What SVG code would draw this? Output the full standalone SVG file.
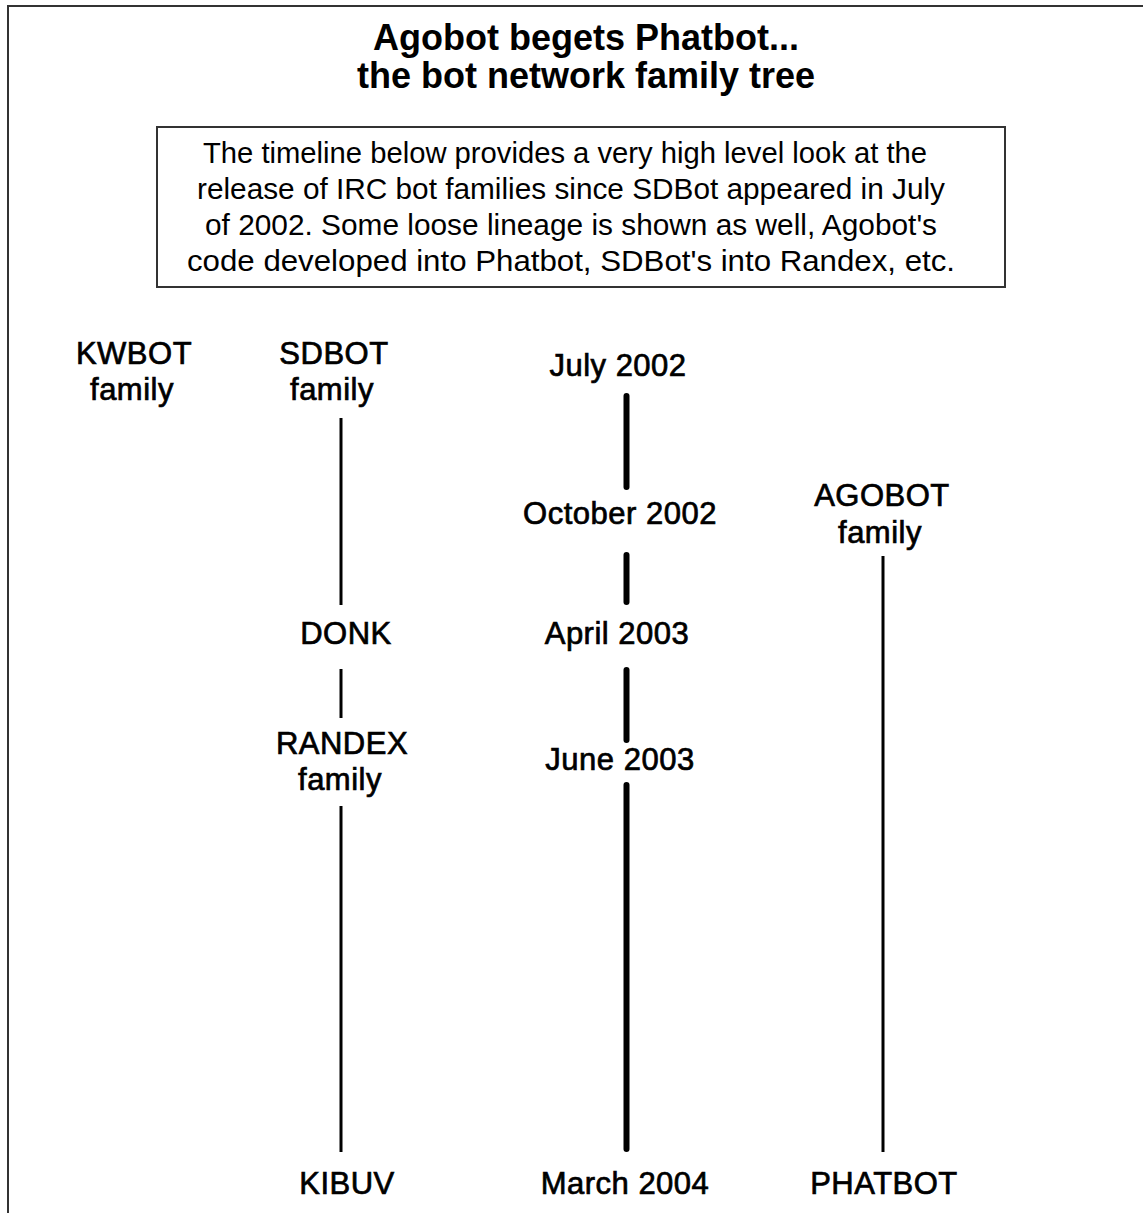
<svg xmlns="http://www.w3.org/2000/svg" width="1143" height="1213" viewBox="0 0 1143 1213">
<style>
  .title { font-family: "Liberation Sans", Arial, sans-serif; font-weight: bold; font-size: 36px; fill: #000; text-anchor: middle; }
  .para { font-family: "Liberation Sans", Arial, sans-serif; font-size: 30px; fill: #000; text-anchor: middle; }
  .lbl { font-family: "Liberation Sans", Arial, sans-serif; font-size: 31px; letter-spacing: 0.5px; fill: #000; stroke: #000; stroke-width: 0.7; text-anchor: middle; }
  .thin { stroke: #000; stroke-width: 3; fill: none; }
  .thick { stroke: #000; stroke-width: 6; fill: none; stroke-linecap: round; }
</style>
<rect width="1143" height="1213" fill="#fff"/>
<path d="M8 1213 V6 H1143" fill="none" stroke="#333" stroke-width="2"/>
<g id="title">
  <text class="title" x="586" y="50">Agobot begets Phatbot...</text>
  <text class="title" x="586" y="88">the bot network family tree</text>
</g>
<g id="description">
  <rect x="157" y="127" width="848" height="160" fill="#fff" stroke="#333" stroke-width="2"/>
  <text class="para" x="565" y="163" textLength="724" lengthAdjust="spacingAndGlyphs">The timeline below provides a very high level look at the</text>
  <text class="para" x="571" y="199" textLength="748" lengthAdjust="spacingAndGlyphs">release of IRC bot families since SDBot appeared in July</text>
  <text class="para" x="571" y="235" textLength="732" lengthAdjust="spacingAndGlyphs">of 2002. Some loose lineage is shown as well, Agobot's</text>
  <text class="para" x="571" y="271" textLength="768" lengthAdjust="spacingAndGlyphs">code developed into Phatbot, SDBot's into Randex, etc.</text>
</g>
<g id="connectors">
  <line class="thin" x1="341" y1="418" x2="341" y2="605"/>
  <line class="thin" x1="341" y1="669" x2="341" y2="718"/>
  <line class="thin" x1="341" y1="806" x2="341" y2="1152"/>
  <line class="thick" x1="626.5" y1="396" x2="626.5" y2="487"/>
  <line class="thick" x1="626.5" y1="555" x2="626.5" y2="602"/>
  <line class="thick" x1="626.5" y1="670" x2="626.5" y2="740"/>
  <line class="thick" x1="626.5" y1="785" x2="626.5" y2="1149"/>
  <line class="thin" x1="883" y1="556" x2="883" y2="1152"/>
</g>
<g id="kwbot"><text class="lbl" x="134" y="364">KWBOT</text><text class="lbl" x="132" y="400">family</text></g>
<g id="sdbot"><text class="lbl" x="334" y="364">SDBOT</text><text class="lbl" x="332" y="400">family</text></g>
<g id="july2002"><text class="lbl" x="618" y="376">July 2002</text></g>
<g id="oct2002"><text class="lbl" x="620" y="524">October 2002</text></g>
<g id="agobot"><text class="lbl" x="882" y="506">AGOBOT</text><text class="lbl" x="880" y="543">family</text></g>
<g id="donk"><text class="lbl" x="346" y="644">DONK</text></g>
<g id="apr2003"><text class="lbl" x="617" y="644">April 2003</text></g>
<g id="randex"><text class="lbl" x="342" y="754">RANDEX</text><text class="lbl" x="340" y="790">family</text></g>
<g id="jun2003"><text class="lbl" x="620" y="770">June 2003</text></g>
<g id="kibuv"><text class="lbl" x="347" y="1194">KIBUV</text></g>
<g id="mar2004"><text class="lbl" x="625" y="1194">March 2004</text></g>
<g id="phatbot"><text class="lbl" x="884" y="1194">PHATBOT</text></g>
</svg>
